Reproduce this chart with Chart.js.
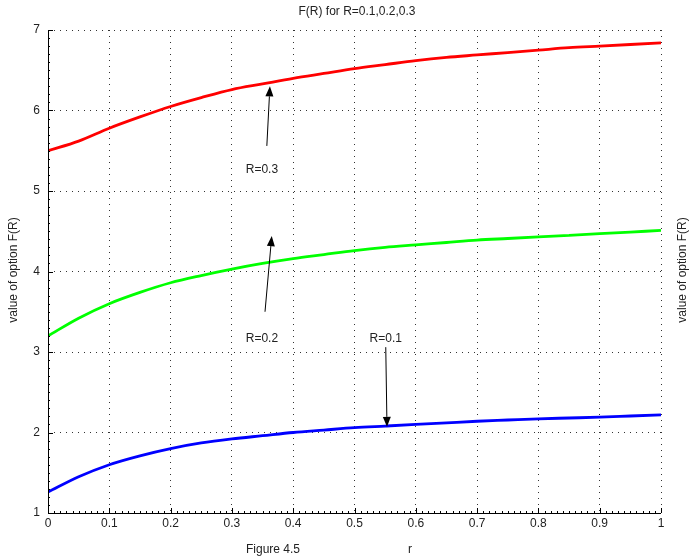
<!DOCTYPE html>
<html>
<head>
<meta charset="utf-8">
<script src="https://cdn.jsdelivr.net/npm/chart.js@4"></script>
<style>
  html, body { margin: 0; padding: 0; background: #fff; }
  #wrap { width: 689px; height: 559px; position: relative; }
</style>
</head>
<body>
<div id="wrap"><canvas id="chart"></canvas></div>
<script>
// r values (x axis)
const r = [0, 0.05, 0.1, 0.15, 0.2, 0.25, 0.3, 0.35, 0.4, 0.45, 0.5,
           0.55, 0.6, 0.65, 0.7, 0.75, 0.8, 0.85, 0.9, 0.95, 1.0];

// F(R) curves
const fR1 = [1.26, 1.45, 1.60, 1.71, 1.80, 1.87, 1.92, 1.96, 2.00, 2.03, 2.06,
             2.08, 2.10, 2.12, 2.14, 2.155, 2.17, 2.18, 2.19, 2.205, 2.22];
const fR2 = [3.20, 3.42, 3.60, 3.74, 3.86, 3.95, 4.03, 4.10, 4.16, 4.21, 4.26,
             4.30, 4.33, 4.36, 4.39, 4.41, 4.43, 4.45, 4.47, 4.49, 4.51];
const fR3 = [5.50, 5.62, 5.78, 5.92, 6.05, 6.16, 6.26, 6.33, 6.40, 6.46, 6.52,
             6.57, 6.62, 6.66, 6.69, 6.72, 6.75, 6.78, 6.80, 6.82, 6.84];

const xTicks = [0, 0.1, 0.2, 0.3, 0.4, 0.5, 0.6, 0.7, 0.8, 0.9, 1];
const yTicks = [1, 2, 3, 4, 5, 6, 7];

// annotations: label, label pos, arrow tail, arrow tip (data coords)
const notes = [
  { text: 'R=0.3', at: [0.349, 5.26], from: [0.357, 5.56], to: [0.362, 6.30] },
  { text: 'R=0.2', at: [0.349, 3.17], from: [0.354, 3.50], to: [0.365, 4.44] },
  { text: 'R=0.1', at: [0.551, 3.17], from: [0.551, 3.06], to: [0.553, 2.07] }
];

const FONT = '"Liberation Sans", Arial, sans-serif';

function pts(ys) {
  return r.map((x, i) => ({ x: x, y: ys[i] }));
}

function ds(label, ys, color) {
  return {
    label: label,
    data: pts(ys),
    borderColor: color,
    backgroundColor: color,
    borderWidth: 2.8,
    pointRadius: 0,
    cubicInterpolationMode: 'monotone',
    fill: false
  };
}

// axis lines, inward ticks, texts and arrows
const decor = {
  id: 'decor',
  afterDraw(chart) {
    const c = chart.ctx;
    const xs = chart.scales.x, ys = chart.scales.y;
    const a = chart.chartArea;
    c.save();
    c.strokeStyle = '#000';
    c.lineWidth = 1;
    c.beginPath();
    c.moveTo(a.left + 0.5, a.top);
    c.lineTo(a.left + 0.5, a.bottom + 0.5);
    c.lineTo(a.right, a.bottom + 0.5);
    c.stroke();

    // minor + major ticks, pointing inward
    c.beginPath();
    for (let i = 0; i <= 100; i++) {
      const px = Math.round(xs.getPixelForValue(i / 100)) + 0.5;
      const len = i % 10 === 0 ? 5 : 2;
      c.moveTo(px, a.bottom);
      c.lineTo(px, a.bottom - len);
    }
    for (let i = 0; i <= 60; i++) {
      const py = Math.round(ys.getPixelForValue(1 + i / 10)) + 0.5;
      const len = i % 10 === 0 ? 5 : 2;
      c.moveTo(a.left, py);
      c.lineTo(a.left + len, py);
    }
    c.stroke();

    // arrows
    c.fillStyle = '#000';
    notes.forEach(n => {
      const x1 = xs.getPixelForValue(n.from[0]), y1 = ys.getPixelForValue(n.from[1]);
      const x2 = xs.getPixelForValue(n.to[0]), y2 = ys.getPixelForValue(n.to[1]);
      const ang = Math.atan2(y2 - y1, x2 - x1);
      const hl = 10, hw = 4;
      c.beginPath();
      c.moveTo(x1, y1);
      c.lineTo(x2 - Math.cos(ang) * hl, y2 - Math.sin(ang) * hl);
      c.stroke();
      c.beginPath();
      c.moveTo(x2, y2);
      c.lineTo(x2 - Math.cos(ang) * hl - Math.sin(ang) * hw, y2 - Math.sin(ang) * hl + Math.cos(ang) * hw);
      c.lineTo(x2 - Math.cos(ang) * hl + Math.sin(ang) * hw, y2 - Math.sin(ang) * hl - Math.cos(ang) * hw);
      c.closePath();
      c.fill();

      c.font = '12px ' + FONT;
      c.textAlign = 'center';
      c.textBaseline = 'middle';
      c.fillStyle = '#222';
      c.fillText(n.text, xs.getPixelForValue(n.at[0]), ys.getPixelForValue(n.at[1]));
      c.fillStyle = '#000';
    });

    // texts
    c.fillStyle = '#222';
    c.font = '12px ' + FONT;
    c.textAlign = 'center';
    c.textBaseline = 'middle';
    c.fillText('F(R) for R=0.1,0.2,0.3', 357, 12);
    c.fillText('Figure 4.5', 273, 550);
    c.fillText('r', 410, 550);
    [14, 683].forEach(x => {
      c.save();
      c.translate(x, 270);
      c.rotate(-Math.PI / 2);
      c.fillText('value of option F(R)', 0, 0);
      c.restore();
    });
    c.restore();
  }
};

new Chart(document.getElementById('chart'), {
  type: 'line',
  data: {
    datasets: [
      ds('R=0.3', fR3, '#ff0000'),
      ds('R=0.2', fR2, '#00ff00'),
      ds('R=0.1', fR1, '#0000ff')
    ]
  },
  options: {
    responsive: true,
    maintainAspectRatio: false,
    animation: false,
    events: [],
    layout: { padding: { left: 0, right: 28, top: 30, bottom: 0 } },
    plugins: {
      legend: { display: false },
      tooltip: { enabled: false }
    },
    scales: {
      x: {
        type: 'linear',
        min: 0,
        max: 1,
        afterFit(s) { s.height = 46; },
        afterBuildTicks(s) { s.ticks = xTicks.map(v => ({ value: v })); },
        ticks: {
          color: '#222',
          font: { family: FONT, size: 12 },
          padding: 3,
          maxRotation: 0,
          callback: v => String(v)
        },
        grid: {
          color: '#333',
          lineWidth: 1,
          drawTicks: false
        },
        border: { display: false, dash: [1, 5] }
      },
      y: {
        type: 'linear',
        min: 1,
        max: 7,
        afterFit(s) { s.width = 48; },
        afterBuildTicks(s) { s.ticks = yTicks.map(v => ({ value: v })); },
        ticks: {
          color: '#222',
          font: { family: FONT, size: 12 },
          padding: 8,
          callback: v => String(v)
        },
        grid: {
          color: '#333',
          lineWidth: 1,
          drawTicks: false
        },
        border: { display: false, dash: [1, 5] }
      }
    }
  },
  plugins: [decor]
});
</script>
</body>
</html>
